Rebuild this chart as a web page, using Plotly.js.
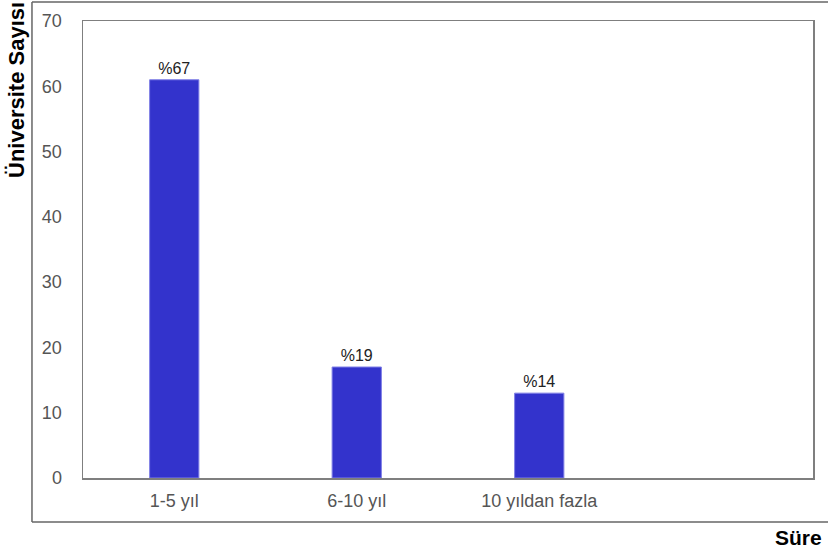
<!DOCTYPE html>
<html>
<head>
<meta charset="utf-8">
<script src="https://cdn.plot.ly/plotly-3.0.1.min.js"></script>
<style>html,body{margin:0;padding:0;background:#fff;}#chart{width:828px;height:552px;}</style>
</head>
<body>
<div id="chart"></div>
<script>
const categories = ["1-5 yıl", "6-10 yıl", "10 yıldan fazla"];
const counts = [61, 17, 13];
const percentLabels = ["%67", "%19", "%14"];
const yTicks = [0, 10, 20, 30, 40, 50, 60, 70];

const trace = {
  type: "bar",
  x: categories,
  y: counts,
  text: percentLabels,
  textposition: "outside",
  cliponaxis: false,
  textfont: {family: "Arial, Liberation Sans, sans-serif", size: 16, color: "#222"},
  marker: {color: "#3333CC", line: {color: "#8080e6", width: 1}},
  width: 0.27,
  hoverinfo: "skip"
};

const layout = {
  width: 828, height: 552,
  margin: {l: 83, r: 15, t: 21, b: 74},
  paper_bgcolor: "#fff", plot_bgcolor: "#fff",
  showlegend: false,
  font: {family: "Arial, Liberation Sans, sans-serif"},
  xaxis: {
    type: "category",
    categoryorder: "array",
    categoryarray: categories.concat([" "]),
    range: [-0.5, 3.5],
    showline: true, linecolor: "#7f7f7f", linewidth: 1.5, mirror: true,
    ticks: "", showgrid: false, zeroline: false,
    tickfont: {size: 18, color: "#555"},
    ticklabelstandoff: 6
  },
  yaxis: {
    range: [0, 70],
    tickvals: yTicks,
    showline: true, linecolor: "#7f7f7f", linewidth: 1.5, mirror: true,
    ticks: "", showgrid: false, zeroline: false,
    tickfont: {size: 18, color: "#555"},
    ticklabelstandoff: 16
  },
  shapes: [
    {type: "line", xref: "paper", yref: "paper", x0: -0.0699, x1: 1.05, y0: 1.0416, y1: 1.0416, line: {color: "#666", width: 1.5}},
    {type: "line", xref: "paper", yref: "paper", x0: -0.0699, x1: 1.05, y0: -0.0963, y1: -0.0963, line: {color: "#666", width: 1.5}},
    {type: "line", xref: "paper", yref: "paper", x0: -0.0699, x1: -0.0699, y0: -0.0963, y1: 1.0416, line: {color: "#666", width: 1.5}}
  ],
  annotations: [
    {text: "Üniversite Sayısı", xref: "paper", yref: "paper", x: -0.0904, y: 1.0438,
     xanchor: "center", yanchor: "top", textangle: -90, showarrow: false, borderpad: 0,
     font: {size: 22, color: "#000", family: "Arial, Liberation Sans, sans-serif", weight: "bold"}},
    {text: "Süre", xref: "paper", yref: "paper", x: 1.0137, y: -0.1028,
     xanchor: "right", yanchor: "top", showarrow: false, borderpad: 0,
     font: {size: 21, color: "#000", family: "Arial, Liberation Sans, sans-serif", weight: "bold"}}
  ]
};

Plotly.newPlot("chart", [trace], layout, {displayModeBar: false, staticPlot: true});
</script>
</body>
</html>
